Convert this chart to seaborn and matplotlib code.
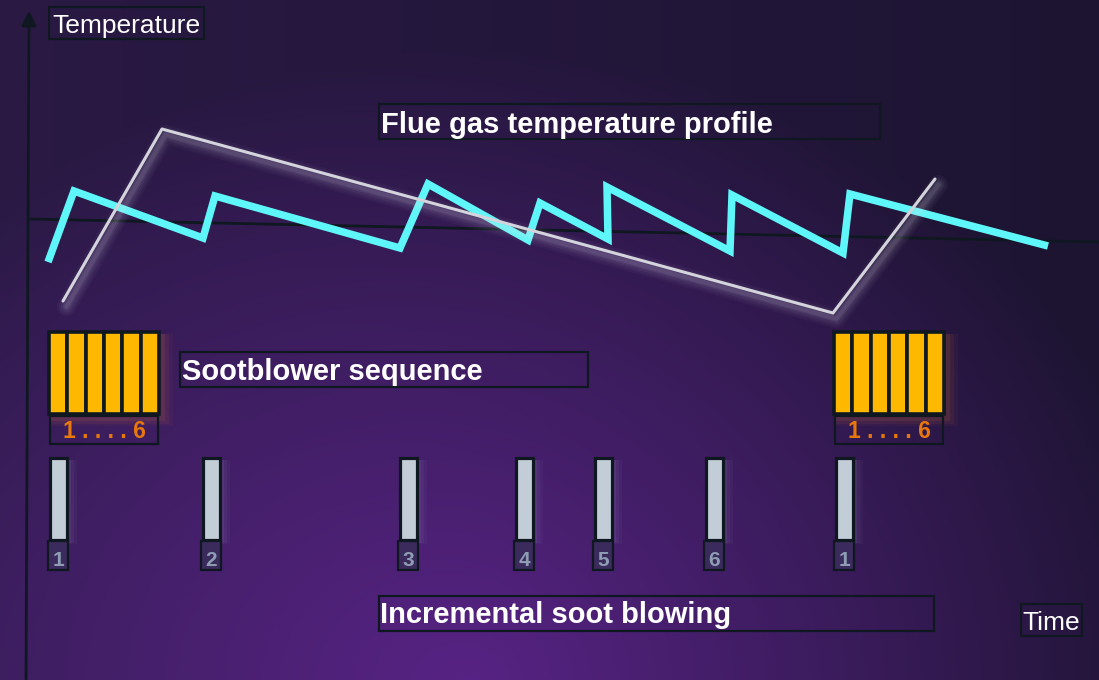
import numpy as np
import seaborn as sns
import matplotlib.pyplot as plt
from matplotlib.patches import Rectangle
from matplotlib import patheffects as pe

# --- style ---
sns.set_theme(style="white")
plt.rcParams['font.family'] = ['Liberation Sans', 'DejaVu Sans']

# --- data (drawing units = pixels) ---
cyan_t = [48, 74, 203, 215, 400, 428, 528, 540, 608, 607, 730, 732, 843, 850, 1048]
cyan_temp = [262, 191, 238, 196, 248, 184, 240, 203, 239, 187, 251, 195, 253, 194, 246]

grey_t = [63, 162, 833, 935]
grey_temp = [301, 129, 313, 179]

blow_x = [58, 211, 408, 524, 603, 714, 844]
blow_labels = ['1', '2', '3', '4', '5', '6', '1']

seq_left = [49, 834]
seq_label = '1 . . . . 6'
n_blowers = 6

DARK = '#0f1820'

fig = plt.figure(figsize=(10.99, 6.8), dpi=100)
ax = fig.add_axes([0, 0, 1, 1])
ax.set_xlim(0, 1099)
ax.set_ylim(680, 0)
ax.axis('off')

# background gradient
W, H = 1099, 680
xx, yy = np.meshgrid(np.linspace(0, W, 400), np.linspace(0, H, 250))
r = np.sqrt(((xx - 470) / 720) ** 2 + ((yy - 690) / 640) ** 2)
w = np.clip(1 - r, 0, 1) ** 0.9
dark = np.array([29, 20, 50]) / 255
light = np.array([80, 32, 122]) / 255
left = np.array([14, 6, 20]) / 255
img = dark + (light - dark) * w[..., None] + left * (1 - xx / W)[..., None] * 0.9
ax.imshow(np.clip(img, 0, 1), extent=[0, W, H, 0], aspect='auto', zorder=0)

# axes
ax.plot([30, 1099], [219, 242], color=DARK, lw=2, zorder=2)
ax.annotate('', xy=(29, 8), xytext=(26, 682),
            arrowprops=dict(arrowstyle='-|>', color=DARK, lw=2, mutation_scale=22),
            zorder=2)

# cyan temperature profile (incremental)
sns.lineplot(x=cyan_t, y=cyan_temp, sort=False, estimator=None, ax=ax,
             color='#5ef6f8', lw=5.4, zorder=4)
ax.lines[-1].set_solid_joinstyle('miter')
ax.lines[-1].set_solid_capstyle('butt')

# grey temperature profile (full sequence) with soft glow
glow = [pe.SimpleLineShadow(offset=(2.5, -4), shadow_color='#e8e8f4', alpha=a, linewidth=lw)
        for lw, a in [(14, 0.03), (11, 0.04), (8, 0.05), (5, 0.07), (3, 0.08)]]
sns.lineplot(x=grey_t, y=grey_temp, sort=False, estimator=None, ax=ax,
             color='#d4d4dc', lw=2.2, zorder=5)
ax.lines[-1].set_path_effects(glow + [pe.Normal()])

# sootblower sequence blocks
cell = 110 / n_blowers
for x0 in seq_left:
    for k, a in [(12, 0.04), (8, 0.06), (4, 0.09)]:
        ax.add_patch(Rectangle((x0 + 2, 334), 110 + k, 84 + k * 0.7,
                               facecolor='#ff8a2a', alpha=a, lw=0, zorder=2))
    ax.bar([x0 + i * cell for i in range(n_blowers)], height=82, bottom=332,
           width=cell, align='edge', color='#ffb800', edgecolor=DARK, lw=2.6, zorder=3)
    ax.add_patch(Rectangle((x0 + 1, 416), 108, 28, facecolor='none',
                           edgecolor=DARK, lw=1.6, zorder=3))
    ax.text(x0 + 55, 438, seq_label, color='#e8780c', fontsize=16.5, fontweight='bold',
            ha='center', va='baseline', zorder=4)

# incremental blowers
for x, lab in zip(blow_x, blow_labels):
    for k, a in [(10, 0.03), (7, 0.04), (4, 0.06)]:
        ax.add_patch(Rectangle((x - 7, 460), 16 + k, 82 + k * 0.2,
                               facecolor='#dfe6ff', alpha=a, lw=0, zorder=2))
    ax.bar([x], height=82, bottom=458, width=17, color='#c2cdd7',
           edgecolor=DARK, lw=2.3, zorder=3)
    ax.add_patch(Rectangle((x - 10, 541), 20, 29, facecolor='#3a2b5c',
                           edgecolor=DARK, lw=1.6, zorder=3))
    ax.text(x, 566, lab, color='#8e9db3', fontsize=15, fontweight='bold',
            ha='center', va='baseline', zorder=4)

# labels with frames
frames = [
    ('Temperature', (49, 7, 155, 32), (52, 33), 'normal', 19),
    ('Flue gas temperature profile', (379, 104, 501, 35), (381, 133), 'bold', 21),
    ('Sootblower sequence', (180, 352, 408, 35), (182, 380), 'bold', 21),
    ('Incremental soot blowing', (379, 596, 555, 35), (380, 623), 'bold', 21),
    ('Time', (1021, 604, 61, 32), (1022, 630), 'normal', 19),
]
for txt, (bx, by, bw, bh), (tx, ty), fw, fs in frames:
    ax.add_patch(Rectangle((bx, by), bw, bh, facecolor='none', edgecolor=DARK,
                           lw=1.6, zorder=3))
    ax.text(tx, ty, txt, color='white', fontsize=fs, fontweight=fw,
            ha='left', va='baseline', zorder=6)

fig.savefig('out.png', dpi=100)
